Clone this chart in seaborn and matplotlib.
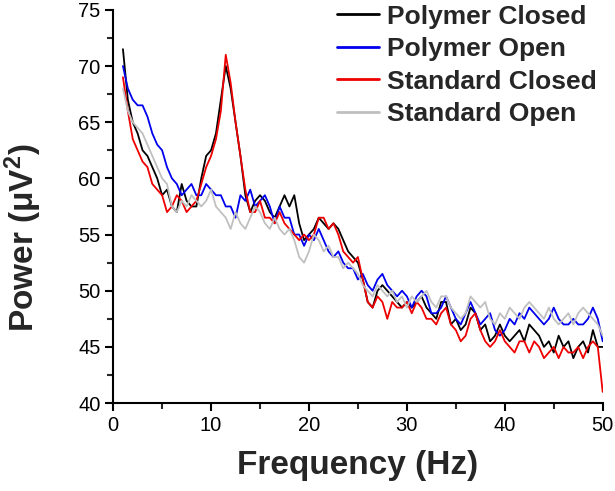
import numpy as np
import pandas as pd
import seaborn as sns
import matplotlib.pyplot as plt
from matplotlib.ticker import MultipleLocator

# Frequency axis, 0.5 Hz steps from 1 to 50 Hz
freq = [1.0 + 0.5 * i for i in range(99)]

polymer_closed = [
    71.5, 67.0, 65.0, 64.0, 62.5, 62.0, 61.0, 60.0, 58.5, 59.0,
    57.5, 57.0, 59.5, 58.0, 57.5, 57.5, 60.0, 62.0, 62.5, 64.0,
    67.0, 70.0, 68.0, 65.0, 62.0, 58.5, 57.0, 58.0, 58.5, 58.0,
    57.0, 56.5, 57.5, 58.5, 57.5, 58.5, 56.0, 54.5, 55.0, 55.5,
    56.5, 56.0, 55.5, 56.0, 55.5, 54.5, 53.5, 53.0, 52.5, 51.0,
    49.0, 48.5, 50.0, 50.5, 50.0, 49.5, 49.0, 48.5, 49.0, 48.5,
    49.0, 49.5, 48.5, 48.0, 47.5, 49.0, 49.0, 47.0, 47.5, 46.5,
    47.0, 48.5, 48.0, 46.5, 47.0, 45.5, 46.0, 47.0, 46.0, 45.5,
    46.0, 46.5, 45.5, 47.0, 46.5, 46.0, 45.0, 45.5, 44.5, 46.0,
    45.0, 45.5, 44.0, 45.0, 45.5, 44.5, 46.5, 45.0, 45.0,
]

polymer_open = [
    70.0, 68.0, 67.0, 66.5, 66.5, 65.5, 64.0, 63.0, 62.5, 61.0,
    60.0, 59.5, 58.5, 59.0, 59.5, 58.5, 58.5, 59.5, 59.0, 58.5,
    58.5, 57.5, 57.5, 56.5, 58.5, 58.0, 59.0, 57.5, 58.0, 58.5,
    57.5, 56.0, 57.5, 56.5, 56.5, 55.0, 55.0, 54.0, 55.0, 54.5,
    55.5, 54.5, 53.5, 53.0, 53.5, 52.5, 52.0, 52.0, 51.0, 51.5,
    50.5, 50.0, 51.0, 51.5, 50.5, 50.0, 49.5, 50.0, 49.5, 48.5,
    49.5, 50.0, 49.5, 48.0, 48.0, 48.5, 49.5, 48.5, 47.5, 47.0,
    48.0, 49.0, 48.0, 47.0, 47.5, 48.0, 46.5, 46.0, 46.5, 47.5,
    47.0, 48.0, 47.5, 48.5, 48.0, 47.5, 47.0, 47.5, 48.5, 47.5,
    47.0, 47.0, 47.5, 47.0, 47.0, 47.5, 48.5, 47.5, 45.5,
]

standard_closed = [
    69.0, 66.0, 63.5, 62.5, 61.5, 61.0, 59.5, 59.0, 58.5, 57.0,
    57.5, 58.5, 58.0, 57.0, 57.5, 58.0, 59.5, 61.0, 62.0, 63.5,
    66.0, 71.0, 68.5, 65.0, 62.0, 59.0, 57.0, 57.0, 58.0, 56.5,
    56.5, 56.0, 57.0, 56.0, 55.5, 55.0, 54.5, 55.0, 54.5, 55.0,
    56.5, 56.5, 55.5, 56.0, 55.0, 53.5, 53.0, 52.5, 53.0, 51.0,
    49.0, 48.5, 49.5, 49.0, 47.5, 49.0, 48.5, 48.5, 49.0, 48.0,
    49.0, 48.5, 47.5, 47.5, 47.0, 48.0, 48.5, 47.0, 46.5, 45.5,
    46.0, 47.5, 48.0, 46.5, 45.5, 45.0, 45.5, 46.5, 45.5, 45.0,
    44.5, 45.5, 45.5, 44.5, 45.5, 45.0, 44.0, 44.5, 45.0, 44.0,
    45.0, 44.5, 44.5, 45.0, 44.0, 45.0, 45.5, 45.0, 41.0,
]

standard_open = [
    68.0, 66.0, 65.0, 64.5, 64.0, 63.0, 62.0, 61.0, 60.0, 59.5,
    57.5, 57.0, 58.0, 57.5, 58.5, 58.0, 57.5, 58.0, 59.0, 57.5,
    57.0, 56.5, 55.5, 57.0, 56.0, 55.5, 56.5, 57.5, 57.0, 56.0,
    55.5, 56.5, 55.5, 55.0, 55.5, 54.5, 53.0, 52.5, 53.5, 55.0,
    54.5, 53.5, 54.0, 53.0, 53.0, 52.0, 52.5, 52.0, 51.5, 50.5,
    50.0, 49.5, 50.5, 50.0, 49.5, 50.0, 49.0, 49.5, 48.5, 49.5,
    49.0, 49.5, 50.0, 49.0, 48.5, 49.5, 49.5, 48.5, 48.0, 47.5,
    48.0, 49.5, 49.0, 48.5, 49.0, 47.5, 47.0, 48.0, 47.5, 48.5,
    48.0, 47.5, 48.5, 49.0, 48.5, 48.0, 47.5, 48.5, 47.5, 47.0,
    47.5, 48.0, 47.0, 48.0, 48.5, 48.0, 47.5, 47.0, 46.0,
]

labels = ['Polymer Closed', 'Polymer Open', 'Standard Closed', 'Standard Open']
colors = ['#000000', '#0000ee', '#ee0000', '#c0c0c0']

series = [polymer_closed, polymer_open, standard_closed, standard_open]
data = pd.concat(
    [pd.DataFrame({'freq': freq, 'power': s, 'group': name}) for name, s in zip(labels, series)],
    ignore_index=True,
)

sns.set_style('ticks')
plt.rcParams['font.family'] = ['Liberation Sans', 'DejaVu Sans']
plt.rcParams['mathtext.fontset'] = 'custom'
plt.rcParams['mathtext.rm'] = 'Liberation Sans:bold'
plt.rcParams['mathtext.default'] = 'rm'

fig = plt.figure(figsize=(6.15, 4.91), dpi=100)
ax = fig.add_axes([0.184, 0.179, 0.796, 0.801])

sns.lineplot(data=data, x='freq', y='power', hue='group', hue_order=labels,
             palette=dict(zip(labels, colors)), linewidth=1.3, ax=ax, legend=False)

ax.set_xlim(0, 50)
ax.set_ylim(40, 75)
ax.xaxis.set_major_locator(MultipleLocator(10))
ax.xaxis.set_minor_locator(MultipleLocator(5))
ax.yaxis.set_major_locator(MultipleLocator(5))
ax.yaxis.set_minor_locator(MultipleLocator(2.5))
ax.tick_params(which='major', direction='out', length=6, width=1.5, labelsize=14.5,
               colors='black', pad=3)
ax.tick_params(which='minor', direction='out', length=4, width=1.5)

sns.despine(ax=ax)
for side in ['left', 'bottom']:
    ax.spines[side].set_linewidth(1.5)
    ax.spines[side].set_color('black')

ax.set_xlabel('Frequency (Hz)', fontsize=24, fontweight='bold')
ax.set_ylabel('Power (μV$^2$)', fontsize=24, fontweight='bold')
ax.xaxis.set_label_coords(0.5, -0.12)
ax.yaxis.set_label_coords(-0.141, 0.42)

handles = [plt.Line2D([], [], color=c, linewidth=2) for c in colors]
leg = ax.legend(handles, labels, loc='upper right', bbox_to_anchor=(1.01, 1.04),
                frameon=False, handlelength=1.6, handletextpad=0.3,
                labelspacing=0.32, borderaxespad=0.0,
                prop={'weight': 'bold', 'size': 19})

fig.savefig('out.png', dpi=100)
